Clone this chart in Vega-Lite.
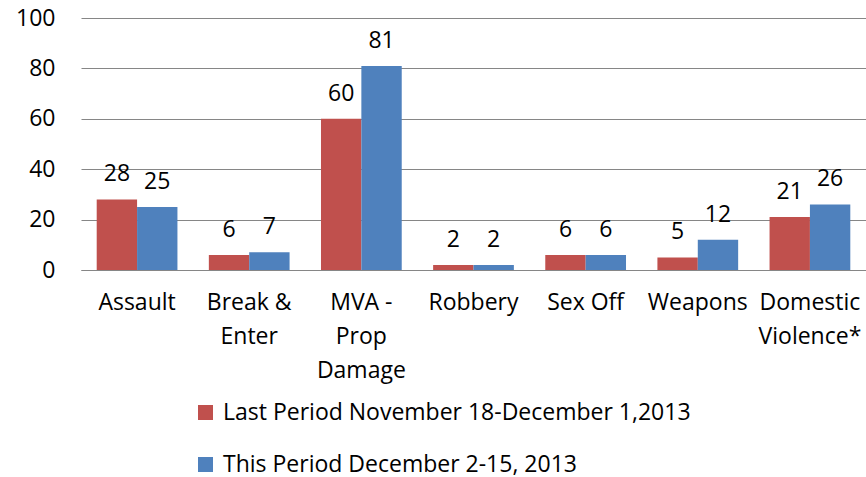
{
  "$schema": "https://vega.github.io/schema/vega-lite/v6.json",
  "width": 785,
  "height": 252,
  "autosize": {"type": "none"},
  "padding": {"left": 81, "top": 18, "right": 0, "bottom": 207},
  "background": "white",
  "config": {
    "font": "Open Sans",
    "view": {"stroke": null}
  },
  "data": {
    "values": [
      {"category": "Assault", "period": "Last Period November 18-December 1,2013", "count": 28},
      {"category": "Assault", "period": "This Period December 2-15, 2013", "count": 25},
      {"category": "Break & Enter", "period": "Last Period November 18-December 1,2013", "count": 6},
      {"category": "Break & Enter", "period": "This Period December 2-15, 2013", "count": 7},
      {"category": "MVA - Prop Damage", "period": "Last Period November 18-December 1,2013", "count": 60},
      {"category": "MVA - Prop Damage", "period": "This Period December 2-15, 2013", "count": 81},
      {"category": "Robbery", "period": "Last Period November 18-December 1,2013", "count": 2},
      {"category": "Robbery", "period": "This Period December 2-15, 2013", "count": 2},
      {"category": "Sex Off", "period": "Last Period November 18-December 1,2013", "count": 6},
      {"category": "Sex Off", "period": "This Period December 2-15, 2013", "count": 6},
      {"category": "Weapons", "period": "Last Period November 18-December 1,2013", "count": 5},
      {"category": "Weapons", "period": "This Period December 2-15, 2013", "count": 12},
      {"category": "Domestic Violence*", "period": "Last Period November 18-December 1,2013", "count": 21},
      {"category": "Domestic Violence*", "period": "This Period December 2-15, 2013", "count": 26}
    ]
  },
  "encoding": {
    "x": {
      "field": "category",
      "type": "nominal",
      "sort": null,
      "scale": {"paddingInner": 0.28, "paddingOuter": 0.14},
      "axis": {
        "title": null,
        "labelAngle": 0,
        "labelFontSize": 23,
        "labelColor": "#000000",
        "labelPadding": 32,
        "labelLineHeight": 34,
        "labelBaseline": "middle",
        "ticks": false,
        "domainColor": "#868686",
        "labelExpr": "datum.value == 'Break & Enter' ? ['Break &', 'Enter'] : datum.value == 'MVA - Prop Damage' ? ['MVA -', 'Prop', 'Damage'] : datum.value == 'Domestic Violence*' ? ['Domestic', 'Violence*'] : datum.value"
      }
    },
    "xOffset": {"field": "period", "type": "nominal", "sort": null},
    "y": {
      "field": "count",
      "type": "quantitative",
      "scale": {"domain": [0, 100]},
      "axis": {
        "title": null,
        "values": [0, 20, 40, 60, 80, 100],
        "labelFontSize": 23,
        "labelColor": "#000000",
        "labelPadding": 26,
        "ticks": false,
        "domain": false,
        "gridColor": "#868686",
        "gridWidth": 1.2
      }
    }
  },
  "layer": [
    {
      "mark": {"type": "bar"},
      "encoding": {
        "color": {
          "field": "period",
          "type": "nominal",
          "sort": null,
          "scale": {"range": ["#C0504D", "#4F81BD"]},
          "legend": {
            "title": null,
            "orient": "none",
            "legendX": 113,
            "legendY": 383,
            "direction": "vertical",
            "symbolType": "square",
            "symbolSize": 225,
            "symbolStrokeWidth": 0,
            "labelFontSize": 23,
            "labelColor": "#000000",
            "labelOffset": 6,
            "rowPadding": 28,
            "labelLimit": 700
          }
        }
      }
    },
    {
      "mark": {"type": "text", "baseline": "bottom", "dy": -13, "fontSize": 23, "color": "#000000"},
      "encoding": {
        "text": {"field": "count", "type": "quantitative"}
      }
    }
  ]
}
